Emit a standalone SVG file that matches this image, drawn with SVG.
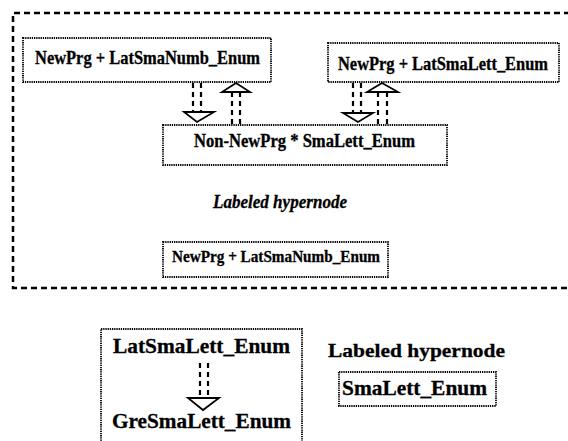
<svg xmlns="http://www.w3.org/2000/svg" width="568" height="441" viewBox="0 0 568 441">
<style>
text{font-family:'Liberation Serif','Times New Roman',Times,serif;font-weight:700;fill:#000;stroke:#000;stroke-width:0.3}
.box{fill:none;stroke:#000;stroke-width:1.8;stroke-dasharray:1.3 0.9}
.outer{fill:none;stroke:#000;stroke-width:2.5;stroke-dasharray:6 4}
.dl{stroke:#000;stroke-width:2.2;stroke-dasharray:5 4;fill:none}
.tri{fill:#fff;stroke:#000;stroke-width:1.8}
</style>
<rect width="568" height="441" fill="#fff"/>
<g id="hypernode">
<path class="outer" d="M590,13 H13 V288 H590"/>
</g>
<g id="n1">
<rect class="box" x="23" y="38" width="248" height="44"/>
<text x="35" y="64" font-size="19" textLength="225" lengthAdjust="spacingAndGlyphs">NewPrg + LatSmaNumb_Enum</text>
</g>
<g id="n2">
<rect class="box" x="328" y="43" width="231" height="39"/>
<text x="338" y="70" font-size="18" textLength="210" lengthAdjust="spacingAndGlyphs">NewPrg + LatSmaLett_Enum</text>
</g>
<g id="n3">
<rect class="box" x="163" y="125" width="284" height="40"/>
<text x="194" y="147" font-size="18" textLength="221" lengthAdjust="spacingAndGlyphs">Non-NewPrg * SmaLett_Enum</text>
</g>
<g id="label1">
<text x="213" y="208" font-size="18" font-style="italic" textLength="134" lengthAdjust="spacingAndGlyphs">Labeled hypernode</text>
</g>
<g id="n4">
<rect class="box" x="163" y="242" width="225" height="35"/>
<text x="172" y="262" font-size="17" textLength="208" lengthAdjust="spacingAndGlyphs">NewPrg + LatSmaNumb_Enum</text>
</g>
<g id="n5">
<rect class="box" x="101" y="329" width="201" height="120"/>
<text x="113" y="353" font-size="21" textLength="177" lengthAdjust="spacingAndGlyphs">LatSmaLett_Enum</text>
<text x="112" y="428" font-size="21" textLength="179" lengthAdjust="spacingAndGlyphs">GreSmaLett_Enum</text>
</g>
<g id="label2">
<text x="328" y="357" font-size="19" textLength="177" lengthAdjust="spacingAndGlyphs">Labeled hypernode</text>
</g>
<g id="n6">
<rect class="box" x="339" y="372" width="157" height="34"/>
<text x="342" y="395" font-size="21" textLength="145" lengthAdjust="spacingAndGlyphs">SmaLett_Enum</text>
</g>
<g id="connectors">
<path class="dl" d="M193,83 V112 M201,83 V112"/>
<polygon class="tri" points="184,112 214,112 197,122"/>
<path class="dl" d="M232,124 V92 M240,124 V92"/>
<polygon class="tri" points="222,92 250,92 236,83"/>
<path class="dl" d="M353,83 V113 M361,83 V113"/>
<polygon class="tri" points="343,113 373,113 358,122"/>
<path class="dl" d="M378,124 V92 M387,124 V92"/>
<polygon class="tri" points="367,92 398,92 382,83"/>
<path class="dl" d="M200,363 V398 M208,363 V398"/>
<polygon class="tri" points="188,398 219,398 203,410"/>
</g>
</svg>
